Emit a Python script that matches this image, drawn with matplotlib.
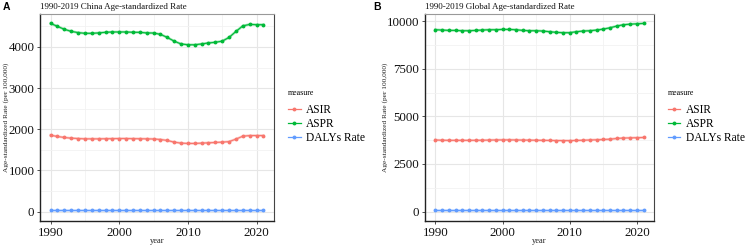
import matplotlib
matplotlib.use("Agg")
import matplotlib.pyplot as plt
from matplotlib.ticker import MultipleLocator
from matplotlib.lines import Line2D

years = list(range(1990, 2022))

china_asir = [1855, 1824, 1800, 1783, 1775, 1767, 1767, 1767, 1770, 1772, 1775, 1775,
              1772, 1770, 1767, 1763, 1751, 1727, 1687, 1663, 1655, 1655, 1663, 1671,
              1679, 1687, 1700, 1760, 1831, 1847, 1847, 1847]
china_aspr = [4571, 4499, 4427, 4378, 4347, 4330, 4330, 4340, 4355, 4363, 4363, 4363,
              4355, 4354, 4340, 4337, 4306, 4230, 4140, 4072, 4052, 4052, 4072, 4096,
              4113, 4140, 4230, 4375, 4510, 4547, 4540, 4540]
china_dalys = [40] * 32

global_asir = [3760, 3745, 3740, 3740, 3740, 3740, 3742, 3745, 3755, 3760, 3765, 3765,
               3760, 3755, 3750, 3745, 3740, 3735, 3730, 3728, 3725, 3735, 3745, 3760,
               3770, 3785, 3800, 3840, 3860, 3870, 3880, 3890]
global_aspr = [9548, 9531, 9512, 9512, 9496, 9496, 9512, 9531, 9548, 9548, 9564, 9564,
               9548, 9512, 9496, 9496, 9478, 9444, 9409, 9392, 9392, 9444, 9478, 9496,
               9530, 9580, 9650, 9740, 9810, 9840, 9860, 9880]
global_dalys = [100] * 32

measures = ["ASIR", "ASPR", "DALYs Rate"]
colors = ["#F8766D", "#00BA38", "#619CFF"]
titles = ["1990-2019 China Age-standardized Rate", "1990-2019 Global Age-standardized Rate"]
panel_labels = ["A", "B"]
ylabel = "Age-standardized Rate (per 100,000)"
xlabel = "year"

SERIF = "Liberation Serif"

fig = plt.figure(figsize=(7.5, 2.47), dpi=100)
H = 247.0
W = 750.0
axA = fig.add_axes([40 / W, (H - 221) / H, 234 / W, 207 / H])
axB = fig.add_axes([425 / W, (H - 221) / H, 229 / W, 207 / H])

panels = [
    (axA, [china_asir, china_aspr, china_dalys], 1000, 500, (9 - 40) / 234),
    (axB, [global_asir, global_aspr, global_dalys], 2500, 1250, (388 - 425) / 229),
]

for i, (ax, series, major, minor, ylx) in enumerate(panels):
    ax.set_facecolor("white")
    allv = [v for s in series for v in s]
    lo, hi = min(0, min(allv)), max(allv)
    rng = hi - lo
    ax.set_ylim(lo - 0.05 * rng, hi + 0.05 * rng)
    xr = years[-1] - years[0]
    ax.set_xlim(years[0] - 0.05 * xr, years[-1] + 0.05 * xr)
    ax.xaxis.set_major_locator(MultipleLocator(10))
    ax.xaxis.set_minor_locator(MultipleLocator(5))
    ax.yaxis.set_major_locator(MultipleLocator(major))
    ax.yaxis.set_minor_locator(MultipleLocator(minor))
    ax.grid(which="major", color="#e6e6e6", linewidth=0.8)
    ax.grid(which="minor", color="#f2f2f2", linewidth=0.6)
    ax.set_axisbelow(True)
    for s, c in zip(series, colors):
        ax.plot(years, s, color=c, linewidth=1.8, alpha=0.4, zorder=2)
        ax.plot(years, s, color=c, linewidth=0.8, marker="o", markersize=2.8,
                markeredgewidth=0, zorder=3)
    ax.spines["left"].set_color("#222222")
    ax.spines["bottom"].set_color("#222222")
    ax.spines["left"].set_linewidth(1.0)
    ax.spines["bottom"].set_linewidth(1.0)
    ax.spines["top"].set_color("#999999")
    ax.spines["right"].set_color("#444444")
    ax.spines["top"].set_linewidth(0.8)
    ax.spines["right"].set_linewidth(0.8)
    ax.tick_params(which="major", length=2.5, width=0.6, color="#333333", pad=1.5,
                   labelsize=9.3, labelcolor="#111111")
    ax.tick_params(which="minor", length=0)
    for lab in ax.get_xticklabels() + ax.get_yticklabels():
        lab.set_fontfamily(SERIF)
    ax.set_xlabel(xlabel, fontsize=6, fontfamily=SERIF, color="#222222")
    ax.xaxis.set_label_coords(0.5, (221 - 237) / 207)
    ax.set_ylabel(ylabel, fontsize=5.3, fontfamily=SERIF, color="#222222")
    ax.yaxis.set_label_coords(ylx, 0.5)
    pos = ax.get_position()
    fig.text(pos.x0, 1 - 7 / H, titles[i], fontsize=6.5, fontfamily=SERIF,
             ha="left", va="center", color="#111111")
    handles = [Line2D([0], [0], color=c, linewidth=0.9, marker="o", markersize=2.8,
                      markeredgewidth=0) for c in colors]
    leg = ax.legend(handles, measures, title="measure", loc="center left",
                    bbox_to_anchor=(1.04, 0.505), frameon=False,
                    prop={"family": SERIF, "size": 8.3},
                    handlelength=1.1, handletextpad=0.45, labelspacing=0.2,
                    borderaxespad=0)
    leg.get_title().set_fontfamily(SERIF)
    leg.get_title().set_fontsize(5.7)
    leg._legend_box.align = "left"
    leg._legend_box.sep = 5

fig.text(3 / W, 1 - 7 / H, "A", fontsize=7.5, fontweight="bold",
         fontfamily="Liberation Sans", ha="left", va="center")
fig.text(373 / W, 1 - 7 / H, "B", fontsize=7.5, fontweight="bold",
         fontfamily="Liberation Sans", ha="left", va="center")

fig.savefig("out.png", dpi=100, facecolor="white")
